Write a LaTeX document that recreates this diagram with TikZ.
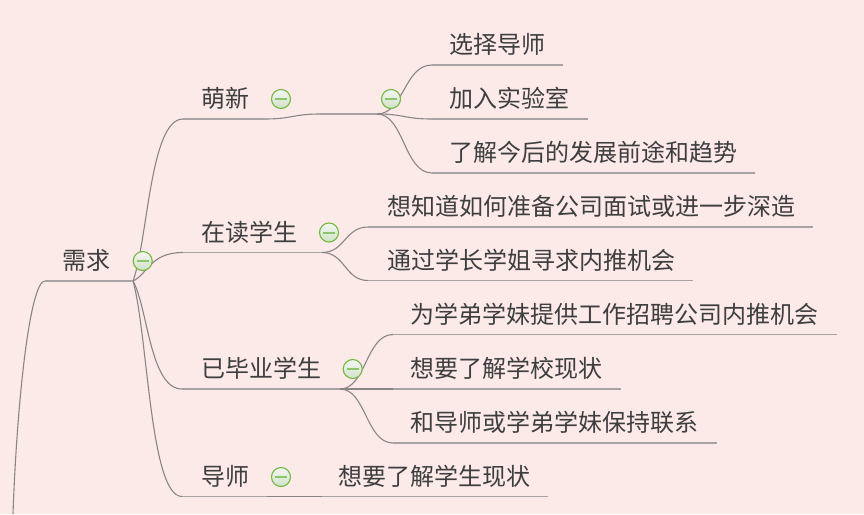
\documentclass[tikz,border=0pt]{standalone}
\usepackage{fontspec}
\newfontfamily\cjk{Noto Sans CJK SC}
\definecolor{bgc}{HTML}{FCEAE9}
\definecolor{txtc}{HTML}{3E3E3E}
\definecolor{curvec}{HTML}{8A8585}
\definecolor{ulc}{HTML}{A8A2A2}
\definecolor{iconring}{HTML}{74B63E}
\definecolor{iconbar}{HTML}{8CC66A}
\definecolor{icontop}{HTML}{F4F7F2}
\definecolor{iconbot}{HTML}{CFE2C8}
\tikzset{
  txt/.style={anchor=west, inner sep=0pt, font=\cjk\fontsize{24}{28}\selectfont, text=txtc},
  conn/.style={draw=curvec, line width=1.1pt},
  uline/.style={draw=ulc, line width=1.6pt},
  collapsebtn/.pic={
    \shade[top color=icontop, bottom color=iconbot, draw=iconring, line width=1.1pt] (0,0) circle (9.5);
    \draw[iconbar, line width=2pt] (-6,0) -- (6,0);
  }
}
\begin{document}
\begin{tikzpicture}[x=1pt,y=-1pt]
\fill[bgc] (0,0) rectangle (864,514);
\useasboundingbox (0,0) rectangle (864,514);

% ---- coordinates of underline ends ----
\coordinate (up) at (13,514);
\coordinate (rootL) at (45,281);   \coordinate (rootR) at (133,281);
\coordinate (n1L) at (183,119);    \coordinate (n1R) at (265,119);
\coordinate (n1eL) at (320,114);   \coordinate (n1eR) at (377,114);
\coordinate (n11L) at (432,65);    \coordinate (n11R) at (563,65);
\coordinate (n12L) at (432,119);   \coordinate (n12R) at (588,119);
\coordinate (n13L) at (432,173);   \coordinate (n13R) at (755,173);
\coordinate (n2L) at (183,252.5);  \coordinate (n2R) at (322,252.5);
\coordinate (n21L) at (368,227);   \coordinate (n21R) at (812.5,227);
\coordinate (n22L) at (368,280.5); \coordinate (n22R) at (692.5,280.5);
\coordinate (n3L) at (182,389);    \coordinate (n3R) at (340,389);
\coordinate (n31L) at (393,334.5); \coordinate (n31R) at (836.5,334.5);
\coordinate (n32L) at (393,389);   \coordinate (n32R) at (621,389);
\coordinate (n33L) at (393,443);   \coordinate (n33R) at (716.5,443);
\coordinate (n4L) at (182,496.5);  \coordinate (n4R) at (267,496.5);
\coordinate (n41L) at (322,496.5); \coordinate (n41R) at (548,496.5);

% ---- connectors ----
\draw[conn] (up) .. controls (17,400) and (30,281) .. (rootL);
\draw[conn] (rootR) .. controls (148,240) and (150,119) .. (n1L);
\draw[conn] (n1R) .. controls (292,119) and (293,114) .. (n1eL);
\draw[conn] (n1eR) .. controls (404,114) and (404,65) .. (n11L);
\draw[conn] (n1eR) .. controls (404,114) and (404,119) .. (n12L);
\draw[conn] (n1eR) .. controls (404,114) and (404,173) .. (n13L);
\draw[conn] (rootR) .. controls (148,274) and (150,252.5) .. (n2L);
\draw[conn] (n2R) .. controls (345,252.5) and (345,227) .. (n21L);
\draw[conn] (n2R) .. controls (345,252.5) and (345,280.5) .. (n22L);
\draw[conn] (rootR) .. controls (148,308) and (150,389) .. (n3L);
\draw[conn] (n3R) .. controls (366,389) and (366,334.5) .. (n31L);
\draw[conn] (n3R) -- (n32L);
\draw[conn] (n3R) .. controls (366,389) and (366,443) .. (n33L);
\draw[conn] (rootR) .. controls (148,335) and (150,496.5) .. (n4L);
\draw[conn] (n4R) -- (n41L);

% ---- underlines ----
\foreach \a in {root,n1,n1e,n11,n12,n13,n2,n21,n22,n3,n31,n32,n33,n4,n41}
  \draw[uline] (\a L) -- (\a R);

% ---- texts ----
\node[txt] (root) at (62,260.5) {需求};
\node[txt] (n1) at (201,98.5) {萌新};
\node[txt] (n11) at (449,44.5) {选择导师};
\node[txt] (n12) at (449,98.5) {加入实验室};
\node[txt] (n13) at (449,152.5) {了解今后的发展前途和趋势};
\node[txt] (n2) at (201,232) {在读学生};
\node[txt] (n21) at (387,206.5) {想知道如何准备公司面试或进一步深造};
\node[txt] (n22) at (387,260) {通过学长学姐寻求内推机会};
\node[txt] (n3) at (201,368.5) {已毕业学生};
\node[txt] (n31) at (410,314) {为学弟学妹提供工作招聘公司内推机会};
\node[txt] (n32) at (410,368.5) {想要了解学校现状};
\node[txt] (n33) at (410,422.5) {和导师或学弟学妹保持联系};
\node[txt] (n4) at (201,476) {导师};
\node[txt] (n41) at (338,476) {想要了解学生现状};

% ---- collapse buttons ----
\pic at (142.7,261) {collapsebtn};
\pic at (281,99) {collapsebtn};
\pic at (391,99) {collapsebtn};
\pic at (329,232.5) {collapsebtn};
\pic at (352.7,369) {collapsebtn};
\pic at (281,477) {collapsebtn};
\end{tikzpicture}
\end{document}
